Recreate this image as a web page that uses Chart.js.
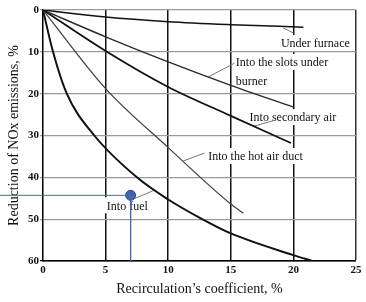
<!DOCTYPE html>
<html>
<head>
<meta charset="utf-8">
<script src="https://cdn.jsdelivr.net/npm/chart.js@4/dist/chart.umd.min.js"></script>
<style>
  body { margin: 0; background: #fff; }
  #wrap { width: 366px; height: 302px; }
</style>
</head>
<body>
<div id="wrap"><canvas id="chart" width="366" height="302"></canvas></div>
<script>
// curves: recirculation coefficient (%) -> NOx reduction (%)
const furnaceX = [0, 5, 10, 15, 20.8];
const furnaceY = [0, 1.7, 2.8, 3.5, 4.1];
const slotsX = [0, 5, 10, 15, 20];
const slotsY = [0, 6.4, 12.4, 18, 23.2];
const secondaryX = [0, 5, 10, 15, 19.8];
const secondaryY = [0, 9.8, 18.4, 25.3, 31.8];
const hotAirX = [0, 5, 10, 15, 16];
const hotAirY = [0, 18.8, 32.9, 46.4, 48.6];
const fuelX = [0, 0.8, 1.9, 4.1, 7.5, 10, 12.6, 15, 20, 21.5];
const fuelY = [0, 10, 20, 30, 40, 45.3, 49.8, 53.4, 58.6, 60];

// marked point and its guide lines
const markX = 7;
const markY = 44.3;
const guideLeftX = -3.45;

const xTicks = [0, 5, 10, 15, 20, 25];
const yTicks = [0, 10, 20, 30, 40, 50, 60];

// curve labels (data coords of left/middle of the text)
const labelTexts = ['Under furnace', 'Into the slots under', 'burner', 'Into secondary air', 'Into the hot air duct', 'Into fuel'];
const labelX = [19.0, 15.4, 15.4, 16.5, 13.2, 5.1];
const labelY = [7.9, 12.4, 17.0, 25.6, 34.9, 46.7];

// leader lines from labels to curves
const leaderFrom = [[20.0, 5.5], [15.3, 12.7], [18.6, 26.3], [12.9, 34.2], [7.2, 45.2]];
const leaderTo = [[19.2, 4.3], [13.2, 16.0], [16.8, 27.8], [11.2, 36.1], [8.8, 43.2]];

const pts = (xs, ys) => xs.map((x, i) => ({ x, y: ys[i] }));

function curve(xs, ys, color, width) {
    return {
        data: pts(xs, ys),
        showLine: true,
        borderColor: color,
        borderWidth: width,
        pointRadius: 0,
        cubicInterpolationMode: 'monotone',
        fill: false
    };
}

const SERIF = "'Liberation Serif', 'DejaVu Serif', serif";

// white-backed labels over the grid, under the curves
const labelPlugin = {
    id: 'curveLabels',
    beforeDatasetsDraw(chart) {
        const { ctx, scales: { x, y } } = chart;
        ctx.save();
        ctx.font = '12px ' + SERIF;
        ctx.textBaseline = 'middle';
        labelTexts.forEach((t, i) => {
            const px = x.getPixelForValue(labelX[i]);
            const py = y.getPixelForValue(labelY[i]);
            const w = ctx.measureText(t).width;
            ctx.fillStyle = '#fff';
            ctx.fillRect(px - 2, py - 8, w + 4, 16);
            ctx.fillStyle = '#111';
            ctx.fillText(t, px, py + 1);
        });
        ctx.strokeStyle = '#777';
        ctx.lineWidth = 1;
        leaderFrom.forEach((f, i) => {
            ctx.beginPath();
            ctx.moveTo(x.getPixelForValue(f[0]), y.getPixelForValue(f[1]));
            ctx.lineTo(x.getPixelForValue(leaderTo[i][0]), y.getPixelForValue(leaderTo[i][1]));
            ctx.stroke();
        });
        ctx.restore();
    }
};

new Chart(document.getElementById('chart'), {
    type: 'scatter',
    data: {
        datasets: [
            curve(furnaceX, furnaceY, '#111', 1.5),
            curve(slotsX, slotsY, '#2a2a2a', 1.4),
            curve(secondaryX, secondaryY, '#111', 1.8),
            curve(hotAirX, hotAirY, '#444', 1.3),
            curve(fuelX, fuelY, '#111', 2),
            {
                data: pts([guideLeftX, markX], [markY, markY]),
                showLine: true, borderColor: '#4a6aa5', borderWidth: 1,
                pointRadius: 0, clip: false
            },
            {
                data: pts([markX, markX], [markY, 60]),
                showLine: true, borderColor: '#4a6aa5', borderWidth: 1,
                pointRadius: 0, clip: false
            },
            {
                data: pts([markX], [markY]),
                pointRadius: 5, backgroundColor: '#3f63b0', borderColor: '#2a4a8a',
                borderWidth: 1, clip: false
            }
        ]
    },
    options: {
        responsive: false,
        animation: false,
        devicePixelRatio: 1,
        layout: { padding: { top: 10, right: 10, left: 0, bottom: 0 } },
        plugins: { legend: { display: false }, tooltip: { enabled: false } },
        scales: {
            x: {
                type: 'linear', min: 0, max: 25,
                afterFit: s => { s.height = 41; },
                afterBuildTicks: s => { s.ticks = xTicks.map(v => ({ value: v })); },
                border: { color: '#000', width: 1.5 },
                grid: {
                    drawTicks: false,
                    color: c => c.tick.value === 25 ? '#333' : '#111',
                    lineWidth: c => c.tick.value === 0 ? 0 : 1.5
                },
                ticks: {
                    padding: 3, color: '#111',
                    font: { family: SERIF, size: 11, weight: 'bold' }
                },
                title: {
                    display: true, text: 'Recirculation’s coefficient, %', color: '#111',
                    font: { family: SERIF, size: 14 }, padding: { top: 0, bottom: 4.6 }
                }
            },
            y: {
                type: 'linear', min: 0, max: 60, reverse: true,
                afterFit: s => { s.width = 43; },
                afterBuildTicks: s => { s.ticks = yTicks.map(v => ({ value: v })); },
                border: { color: '#000', width: 1.5 },
                grid: {
                    tickLength: 3,
                    color: c => c.tick.value === 60 ? '#000' : '#9a9a9a',
                    lineWidth: 1.2
                },
                ticks: {
                    padding: 1, color: '#111',
                    font: { family: SERIF, size: 11, weight: 'bold' }
                },
                title: {
                    display: true, text: 'Reduction of NOx emissions, %', color: '#111',
                    font: { family: SERIF, size: 14 }, padding: { top: 5.6, bottom: 0 }
                }
            }
        }
    },
    plugins: [labelPlugin]
});
</script>
</body>
</html>
